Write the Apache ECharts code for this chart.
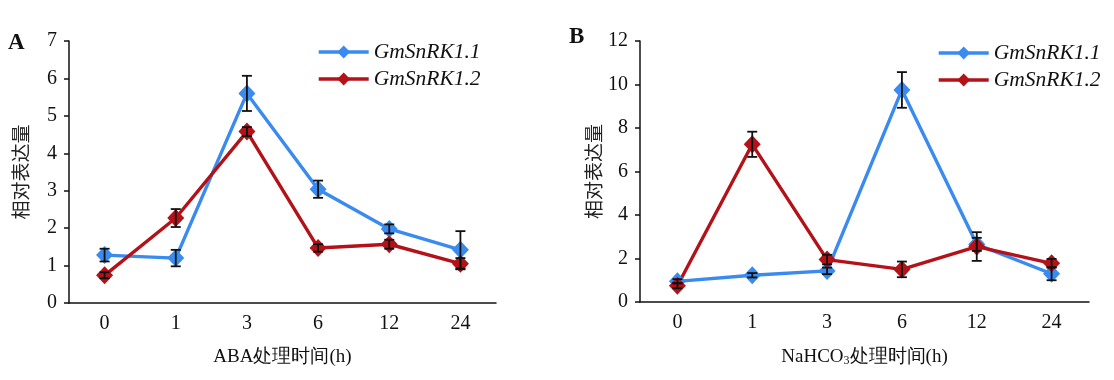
<!DOCTYPE html>
<html><head><meta charset="utf-8">
<script src="https://cdn.jsdelivr.net/npm/echarts@6/dist/echarts.min.js"></script>
<style>html,body{margin:0;padding:0;background:#fff}#c{width:1114px;height:380px}</style>
</head><body><div id="c"></div>
<script>
const categories = ['0','1','3','6','12','24'];
const seriesNames = ['GmSnRK1.1','GmSnRK1.2'];
// Panel A (ABA)
const abaSnRK11 = [1.28, 1.2, 5.6, 3.04, 1.98, 1.42];
const abaSnRK11Err = [0.17, 0.22, 0.47, 0.23, 0.12, 0.5];
const abaSnRK12 = [0.74, 2.27, 4.58, 1.47, 1.57, 1.05];
const abaSnRK12Err = [0.08, 0.24, 0.12, 0.1, 0.12, 0.15];
// Panel B (NaHCO3)
const nahSnRK11 = [0.95, 1.23, 1.43, 9.75, 2.65, 1.3];
const nahSnRK11Err = [0.1, 0.1, 0.15, 0.82, 0.3, 0.3];
const nahSnRK12 = [0.75, 7.25, 1.95, 1.5, 2.55, 1.78];
const nahSnRK12Err = [0.12, 0.58, 0.22, 0.36, 0.66, 0.2];
const yTicksA = {min: 0, max: 7, interval: 1};
const yTicksB = {min: 0, max: 12, interval: 2};

const BLUE = '#3a8bef', RED = '#b31218';
const SERIF = '"Liberation Serif","DejaVu Serif",serif';
const CJK = '"Noto Sans CJK SC",sans-serif';

function errSeries(vals, errs, xi, yi){
  return {
    type: 'custom', xAxisIndex: xi, yAxisIndex: yi, z: 3, silent: true,
    data: vals.map((v,i)=>[i, v - errs[i], v + errs[i]]),
    renderItem: function(params, api){
      const lo = api.coord([api.value(0), api.value(1)]);
      const hi = api.coord([api.value(0), api.value(2)]);
      const w = 5;
      const st = {stroke: '#111', lineWidth: 1.8};
      return {type: 'group', children: [
        {type:'line', shape:{x1:lo[0],y1:lo[1],x2:hi[0],y2:hi[1]}, style: st},
        {type:'line', shape:{x1:lo[0]-w,y1:lo[1],x2:lo[0]+w,y2:lo[1]}, style: st},
        {type:'line', shape:{x1:hi[0]-w,y1:hi[1],x2:hi[0]+w,y2:hi[1]}, style: st}
      ]};
    }
  };
}
function lineSeries(name, vals, color, xi, yi){
  return {
    name: name, type: 'line', xAxisIndex: xi, yAxisIndex: yi, data: vals, z: 2,
    symbol: 'diamond', symbolSize: [17, 18], showSymbol: true,
    lineStyle: {color: color, width: 3.4}, itemStyle: {color: color},
    emphasis: {disabled: true}
  };
}
function xAx(gi, name, nameRich){
  return {
    type: 'category', gridIndex: gi, data: categories, boundaryGap: true,
    axisLine: {lineStyle: {color: '#111', width: 1.5}},
    axisTick: {alignWithLabel: true, length: 5, lineStyle: {color: '#111', width: 1.5}},
    axisLabel: {color: '#111', fontFamily: SERIF, fontSize: 20, margin: 11},
    splitLine: {show: false},
    name: name, nameLocation: 'middle', nameGap: 45,
    nameTextStyle: {color: '#111', fontFamily: SERIF, fontSize: 19, rich: nameRich}
  };
}
function yAx(gi, t, nameGap){
  return {
    type: 'value', gridIndex: gi, min: t.min, max: t.max, interval: t.interval,
    axisLine: {show: true, lineStyle: {color: '#111', width: 1.5}},
    axisTick: {show: true, length: 5, lineStyle: {color: '#111', width: 1.5}},
    axisLabel: {color: '#111', fontFamily: SERIF, fontSize: 20, margin: 12},
    splitLine: {show: false},
    name: '相对表达量', nameLocation: 'middle', nameGap: nameGap,
    nameTextStyle: {color: '#222', fontFamily: CJK, fontSize: 19}
  };
}
const chart = echarts.init(document.getElementById('c'), null, {renderer: 'canvas'});
const legendCommon = {
  orient: 'vertical', itemWidth: 50, itemHeight: 16, itemGap: 5, padding: 0,
  lineStyle: {width: 3.4},
  textStyle: {color: '#111', fontFamily: SERIF, fontStyle: 'italic', fontSize: 21.5, padding: [0,0,0,0]},
  selectedMode: false
};
chart.setOption({
  animation: false,
  grid: [
    {left: 69, right: 618, top: 41, bottom: 77},
    {left: 640, right: 25, top: 41, bottom: 78}
  ],
  xAxis: [
    xAx(0, 'ABA处理时间(h)', {}),
    xAx(1, '{a|NaHCO}{s|3}{a|处理时间(h)}', {
      a: {color: '#111', fontFamily: SERIF, fontSize: 19},
      s: {color: '#111', fontFamily: SERIF, fontSize: 12, verticalAlign: 'bottom', padding: [8,0,0,0]}
    })
  ],
  yAxis: [yAx(0, yTicksA, 39), yAx(1, yTicksB, 37)],
  legend: [
    Object.assign({left: 317, top: 41, data: seriesNames.map(n=>({name: n}))}, legendCommon),
    Object.assign({left: 937, top: 42, data: seriesNames.map(n=>({name: n}))}, legendCommon)
  ],
  graphic: [
    {type: 'text', left: 8, top: 32, style: {text: 'A', font: 'bold 23px ' + SERIF, fill: '#111'}},
    {type: 'text', left: 569, top: 26, style: {text: 'B', font: 'bold 23px ' + SERIF, fill: '#111'}}
  ],
  series: [
    lineSeries(seriesNames[0], abaSnRK11, BLUE, 0, 0),
    lineSeries(seriesNames[1], abaSnRK12, RED, 0, 0),
    errSeries(abaSnRK11, abaSnRK11Err, 0, 0),
    errSeries(abaSnRK12, abaSnRK12Err, 0, 0),
    lineSeries(seriesNames[0], nahSnRK11, BLUE, 1, 1),
    lineSeries(seriesNames[1], nahSnRK12, RED, 1, 1),
    errSeries(nahSnRK11, nahSnRK11Err, 1, 1),
    errSeries(nahSnRK12, nahSnRK12Err, 1, 1)
  ]
});
</script></body></html>
